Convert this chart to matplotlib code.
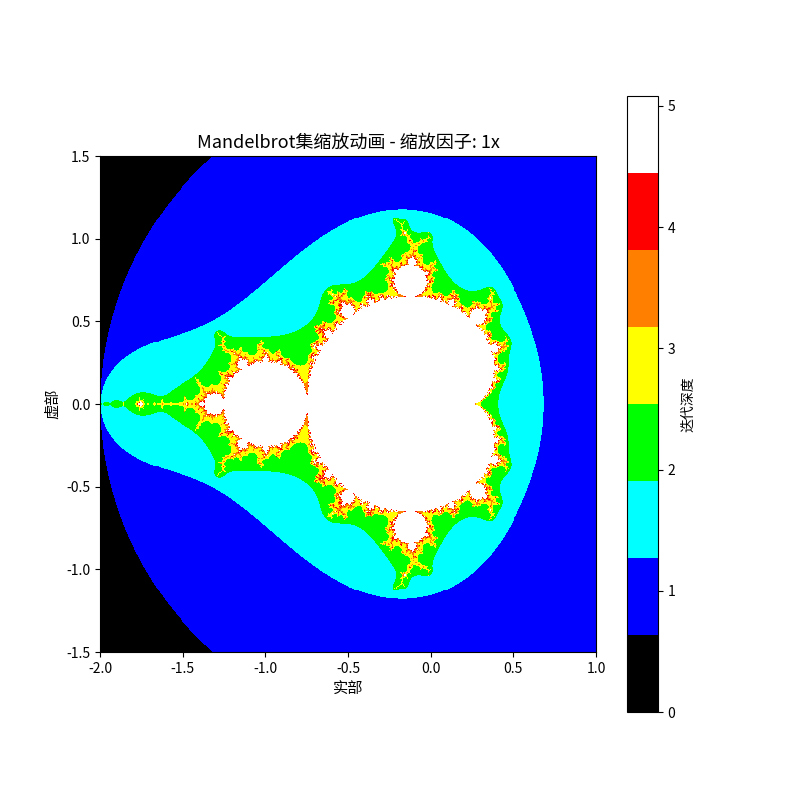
import matplotlib
matplotlib.use("Agg")
import matplotlib.pyplot as plt
import numpy as np
from matplotlib.colors import ListedColormap

plt.rcParams['font.family'] = ['Noto Sans CJK SC', 'DejaVu Sans']
plt.rcParams['axes.unicode_minus'] = False

x_range = [-2.0, 1.0]
y_range = [-1.5, 1.5]
width, height = 500, 500
max_iter = 160
colors = ['black', 'blue', 'cyan', 'lime', 'yellow', '#ff8000', 'red', 'white']
zoom = 1

x = np.linspace(x_range[0], x_range[1], width)
y = np.linspace(y_range[0], y_range[1], height)
c = x[None, :] + 1j * y[:, None]
z = np.zeros_like(c)
counts = np.zeros(c.shape, dtype=int)
alive = np.ones(c.shape, dtype=bool)
for i in range(max_iter):
    z[alive] = z[alive] ** 2 + c[alive]
    escaped = alive & (np.abs(z) > 2)
    alive &= ~escaped
    counts[alive] += 1
depth = np.log(counts + 1)

fig, ax = plt.subplots(figsize=(8, 8), dpi=100)
im = ax.imshow(depth, extent=[*x_range, *y_range], origin='lower',
               cmap=ListedColormap(colors), vmin=0, vmax=np.log(max_iter + 1),
               interpolation='nearest')
ax.set_title(f'Mandelbrot集缩放动画 - 缩放因子: {zoom}x', fontsize=13)
ax.set_xlabel('实部', fontsize=11)
ax.set_ylabel('虚部', fontsize=11)
cb = fig.colorbar(im, ax=ax)
cb.set_label('迭代深度')
plt.savefig('out.png', dpi=100)
